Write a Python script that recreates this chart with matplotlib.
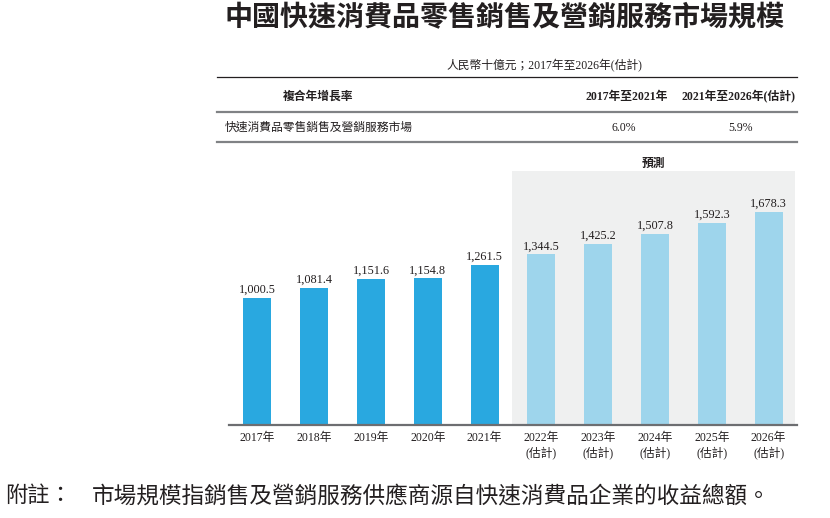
import matplotlib
matplotlib.use("Agg")
import matplotlib.pyplot as plt
from matplotlib.lines import Line2D
import numpy as np

plt.rcParams['font.family'] = ['Liberation Serif', 'Noto Sans CJK TC']

# ---- data ----
years = ['2017', '2018', '2019', '2020', '2021', '2022', '2023', '2024', '2025', '2026']
values = [1000.5, 1081.4, 1151.6, 1154.8, 1261.5, 1344.5, 1425.2, 1507.8, 1592.3, 1678.3]
is_forecast = [False, False, False, False, False, True, True, True, True, True]
title = '中國快速消費品零售銷售及營銷服務市場規模'
unit_text = '人民幣十億元；2017年至2026年(估計)'
cagr_header = ['複合年增長率', '2017年至2021年', '2021年至2026年(估計)']
cagr_row = ['快速消費品零售銷售及營銷服務市場', '6.0%', '5.9%']
forecast_label = '預測'
note_head = '附註：'
note_text = '市場規模指銷售及營銷服務供應商源自快速消費品企業的收益總額。'

DARK = '#29A8E0'
LIGHT = '#9ED5EC'
SHADE = '#EFF0F0'
TXT = '#231F20'

W, H = 830, 518
fig = plt.figure(figsize=(8.3, 5.18), dpi=100)


def fx(p):
    return p / W


def fy(p):
    return 1 - p / H


ax = fig.add_axes([fx(229), fy(425), fx(797) - fx(229), fy(170.7) - fy(425)])
x = np.arange(len(years))
colors = [LIGHT if f else DARK for f in is_forecast]
ax.axvspan(4.48, 9.46, color=SHADE, zorder=0, lw=0)
ax.bar(x, values, width=0.49, color=colors, zorder=2)
ax.set_xlim(-0.5, 9.5)
ax.set_ylim(0, 2004)
for s in ['top', 'left', 'right']:
    ax.spines[s].set_visible(False)
ax.spines['bottom'].set_color('#6D6E71')
ax.spines['bottom'].set_linewidth(1.6)
ax.spines['bottom'].set_zorder(3)
ax.set_yticks([])
labels = [f'{y}年\n(估計)' if f else f'{y}年' for y, f in zip(years, is_forecast)]
ax.set_xticks(x, labels, fontsize=8.5, color=TXT, linespacing=1.25, va='top')
ax.tick_params(axis='x', length=0, pad=5)
for xi, v in zip(x, values):
    ax.annotate(f'{v:,.1f}', (xi, v), xytext=(0, 1.5), textcoords='offset points',
                ha='center', va='bottom', fontsize=8.8, color=TXT)

fig.text(fx(653), fy(163), forecast_label, ha='center', va='center', fontsize=8.5,
         fontweight='bold', color=TXT, family=['Noto Sans CJK TC'])

# title
fig.text(fx(504.5), fy(18.5), title, ha='center', va='center', fontsize=20.2,
         fontweight='bold', color=TXT, family=['Noto Sans CJK TC'])

# unit
fig.text(fx(642), fy(66), unit_text, ha='right', va='center', fontsize=8.5, color=TXT)

# table lines
fig.add_artist(Line2D([fx(216.7), fx(797)], [fy(76.7)] * 2, color=TXT, lw=0.9))
fig.add_artist(Line2D([fx(216.7), fx(797)], [fy(112.3)] * 2, color='#808285', lw=1.6))
fig.add_artist(Line2D([fx(216.7), fx(797)], [fy(141.7)] * 2, color='#808285', lw=1.6))

fig.text(fx(318), fy(96.7), cagr_header[0], ha='center', va='center', fontsize=8.5,
         fontweight='bold', color=TXT)
fig.text(fx(627), fy(96.7), cagr_header[1], ha='center', va='center', fontsize=8.5,
         fontweight='bold', color=TXT)
fig.text(fx(738), fy(96.7), cagr_header[2], ha='center', va='center', fontsize=8.5,
         fontweight='bold', color=TXT)
fig.text(fx(225), fy(128), cagr_row[0], ha='left', va='center', fontsize=8.5, color=TXT)
fig.text(fx(624), fy(128), cagr_row[1], ha='center', va='center', fontsize=8.5, color=TXT)
fig.text(fx(740), fy(128), cagr_row[2], ha='center', va='center', fontsize=8.5, color=TXT)

# footnote
fig.text(fx(5), fy(497), note_head, ha='left', va='center', fontsize=16, color=TXT)
fig.text(fx(92), fy(497), note_text, ha='left', va='center', fontsize=16.3, color=TXT)

fig.savefig('out.png', dpi=100)
